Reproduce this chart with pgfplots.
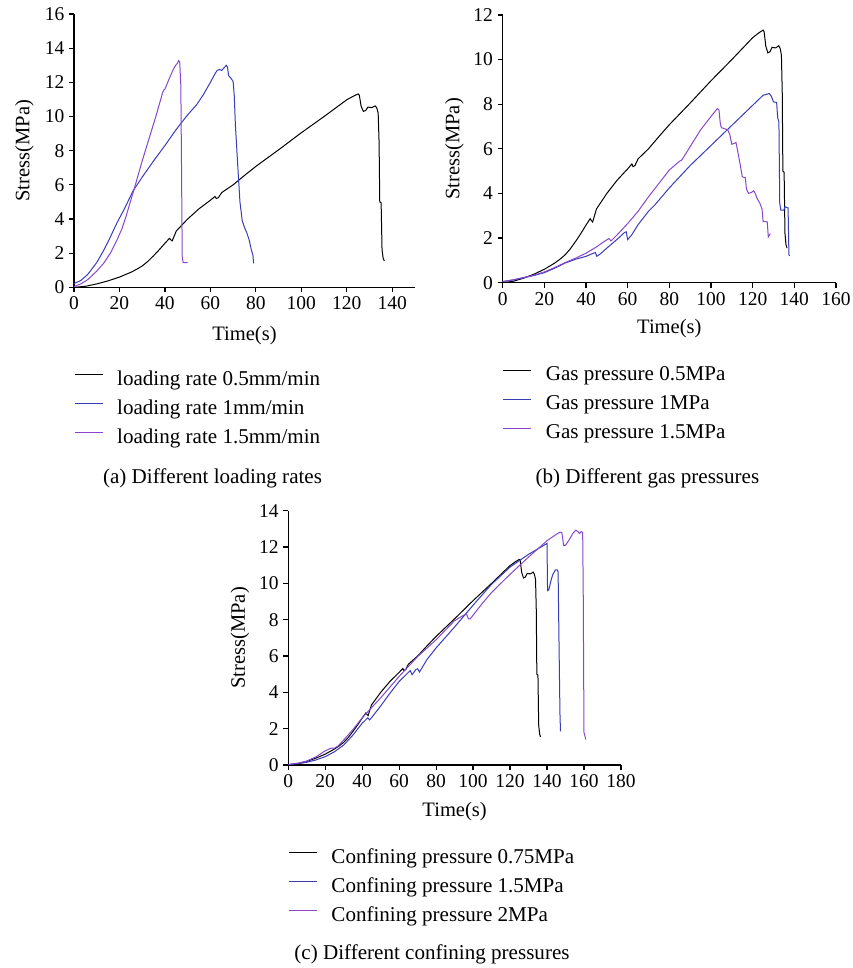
\documentclass[border=0pt]{standalone}
\usepackage{fontspec}
\setmainfont{Liberation Serif}
\usepackage{pgfplots}
\usepackage{pgfplotstable}
\pgfplotsset{compat=1.18}
\definecolor{cblue}{RGB}{55,60,185}
\definecolor{cpurple}{RGB}{135,70,205}

\pgfplotstableread{
t s
0 0
5 0.06
10 0.2
15 0.38
20 0.6
25 0.88
27.5 1.05
30 1.25
32.5 1.52
35 1.85
37.5 2.2
40 2.58
42 2.87
42.6 2.78
43.2 2.72
45 3.3
50 4.0
55 4.6
60 5.1
62 5.32
62.6 5.2
63.5 5.25
65 5.55
70 6.0
75 6.55
80 7.08
90 8.05
100 9.05
110 10.0
120 10.98
123 11.2
125 11.32
125.5 11.25
126.3 10.6
127.3 10.3
128.3 10.35
129.3 10.55
131 10.52
132.5 10.62
133.2 10.5
133.8 10.2
134.2 8.5
134.5 5.0
135.1 4.95
135.5 2.2
136 1.7
136.5 1.55
}\blackdata

\pgfplotstableread{
t s
0 0.22
3 0.4
6 0.75
10 1.45
13 2.15
16 2.95
19 3.8
22 4.55
26 5.65
30 6.45
35 7.4
40 8.3
45 9.25
50 10.1
54 10.7
57 11.3
60 12.0
62 12.5
63 12.7
64 12.75
65 12.7
66 12.85
67 13.0
67.5 12.9
68 12.4
69 12.25
70 12.05
70.5 11.2
71 9.5
72 7.2
73 5.0
74 3.9
75 3.5
76 3.2
77 2.8
78 2.2
78.7 1.9
79 1.4
}\ablue

\pgfplotstableread{
t s
0 0.05
3 0.2
6 0.45
10 0.95
13 1.4
16 2.0
19 2.8
21 3.4
23 4.2
25 5.1
27 6.0
30 7.4
33 8.7
36 10.0
39 11.4
39.5 11.55
40 11.6
42 12.25
44 12.85
45 13.05
45.5 13.1
46 13.27
46.5 13.2
47 11.8
47.3 7.0
47.6 1.8
48 1.45
50 1.45
}\apurple

\pgfplotstableread{
t s
0 0.05
5 0.12
10 0.22
15 0.32
20 0.45
25 0.65
30 0.88
35 1.05
40 1.18
43 1.3
44.5 1.35
45.2 1.18
47 1.3
50 1.55
55 1.95
58.5 2.25
59.3 2.28
60 1.93
62 2.15
65 2.6
70 3.2
73 3.48
75 3.7
80 4.25
90 5.25
100 6.15
110 7.05
120 7.95
125 8.4
127 8.45
128 8.48
129 8.35
130 8.1
131.5 8.08
132 7.4
132.6 7.2
133 3.55
133.5 3.25
135 3.25
135.5 3.4
137 3.35
137.4 1.25
137.8 1.2
}\bblue

\pgfplotstableread{
t s
0 0.05
5 0.13
10 0.23
15 0.34
20 0.48
25 0.68
30 0.9
35 1.1
40 1.32
45 1.6
48 1.8
51 1.98
52 1.87
55 2.15
60 2.65
65 3.2
70 3.85
75 4.45
80 5.05
85 5.45
86 5.5
90 6.1
95 6.85
100 7.45
103 7.8
103.8 7.75
104.5 7.1
105 6.95
106.5 6.9
108 6.85
109 6.65
110 6.2
112 6.28
113 5.8
114 5.3
115 4.75
116.5 4.7
117 4.2
118 4.0
119.5 4.05
120.5 4.12
121.5 3.95
122 3.8
123.5 3.55
124.5 3.3
125 2.75
127 2.72
127.5 2.05
128.5 2.2
}\bpurple

\pgfplotstableread{
t s
0 0.03
5 0.07
10 0.15
15 0.28
20 0.46
25 0.73
30 1.1
35 1.65
40 2.3
43 2.6
44 2.48
45 2.6
50 3.25
55 3.95
60 4.6
65 5.1
66 5.2
67 4.97
69 5.25
70 5.3
71 5.12
75 5.8
80 6.45
90 7.6
100 8.8
110 9.95
120 10.9
130 11.6
135 11.9
140 12.2
140.3 9.6
141 9.65
142 10.1
143 10.45
144.5 10.75
145.5 10.75
146 10.65
146.5 6.7
147 2.85
147.3 1.85
}\cblue

\pgfplotstableread{
t s
0 0.03
5 0.1
10 0.22
15 0.45
20 0.78
23 0.92
25 0.93
27 1.05
30 1.38
35 1.95
40 2.6
45 3.15
50 3.7
60 4.88
70 5.97
80 6.9
90 7.95
95 8.25
96.5 8.3
97.5 8.05
98.5 8.05
100 8.25
105 8.9
110 9.5
120 10.5
130 11.45
140 12.35
145 12.7
147 12.82
148 12.8
149 12.1
150 12.1
152 12.4
154 12.75
155.5 12.93
156.5 12.87
157.5 12.75
158.5 12.85
159.3 12.8
159.6 9.5
160 1.8
161 1.4
}\cpurple

\pgfplotsset{
  myax/.style={
    scale only axis,
    anchor=south west,
    axis x line=bottom, axis y line=left,
    axis line style={-, line width=0.9pt},
    tick align=outside, major tick length=3.75pt,
    tick style={line width=0.9pt, black},
    xmin=0, ymin=0,
    /pgf/number format/assume math mode=true,
    ticklabel style={font=\fontsize{14.6}{17}\selectfont},
    every axis y label/.style={at={(axis description cs:-0.145,0.5)}, rotate=90, anchor=center,
      font=\fontsize{15.4}{18}\selectfont},
    legend style={draw=none, fill=none, inner sep=0pt, outer sep=0pt, anchor=north west,
      font=\fontsize{15.8}{19}\selectfont, row sep=7.25pt, column sep=10.5pt,
      nodes={inner sep=0pt, text height=11pt, text depth=3.5pt}},
    legend cell align=left,
    legend image code/.code={\draw[##1, line width=0.9pt] (0pt,4.2pt) -- (21pt,4.2pt);},
    ylabel={Stress(MPa)}, xlabel={Time(s)},
    every axis plot/.append style={line width=0.75pt},
  },
  xlab/.style={every axis x label/.style={at={(axis description cs:0.5,#1)}, anchor=base,
      font=\fontsize{15.4}{18}\selectfont}},
}

\begin{document}
\begin{tikzpicture}
\useasboundingbox (0pt,0pt) rectangle (639.75pt,-726pt);

% (a)
\begin{axis}[myax, at={(55.5pt,-215.5pt)}, width=255.75pt, height=205pt,
  xmax=150, ymax=16, xtick={0,20,...,140}, ytick={0,2,...,16},
  xlab=-0.193,
  legend style={at={(axis description cs:0,-0.304)}},
  legend entries={loading rate 0.5mm/min, loading rate 1mm/min, loading rate 1.5mm/min}]
\addplot[black] table[x=t,y=s] {\blackdata};
\addplot[cblue] table[x=t,y=s] {\ablue};
\addplot[cpurple] table[x=t,y=s] {\apurple};
\end{axis}

% (b)
\begin{axis}[myax, at={(377pt,-212pt)}, width=250pt, height=200.8pt,
  xmax=160, ymax=12, xtick={0,20,...,160}, ytick={0,2,...,12},
  xlab=-0.188,
  legend style={at={(axis description cs:0,-0.312)}},
  legend entries={Gas pressure 0.5MPa, Gas pressure 1MPa, Gas pressure 1.5MPa}]
\addplot[black] table[x=t,y=s] {\blackdata};
\addplot[cblue] table[x=t,y=s] {\bblue};
\addplot[cpurple] table[x=t,y=s] {\bpurple};
\end{axis}

% (c)
\begin{axis}[myax, at={(216.2pt,-573.75pt)}, width=249.5pt, height=190.7pt,
  xmax=180, ymax=14, xtick={0,20,...,180}, ytick={0,2,...,14},
  xlab=-0.203,
  legend style={at={(axis description cs:0,-0.329)}},
  legend entries={Confining pressure 0.75MPa, Confining pressure 1.5MPa, Confining pressure 2MPa}]
\addplot[black] table[x=t,y=s] {\blackdata};
\addplot[cblue] table[x=t,y=s] {\cblue};
\addplot[cpurple] table[x=t,y=s] {\cpurple};
\end{axis}

\node[font=\fontsize{15.8}{19}\selectfont, anchor=base, inner sep=0pt] at (159.4pt,-362.25pt) {(a) Different loading rates};
\node[font=\fontsize{15.8}{19}\selectfont, anchor=base, inner sep=0pt] at (485.6pt,-362.5pt) {(b) Different gas pressures};
\node[font=\fontsize{15.8}{19}\selectfont, anchor=base, inner sep=0pt] at (324pt,-719.5pt) {(c) Different confining pressures};
\end{tikzpicture}
\end{document}
